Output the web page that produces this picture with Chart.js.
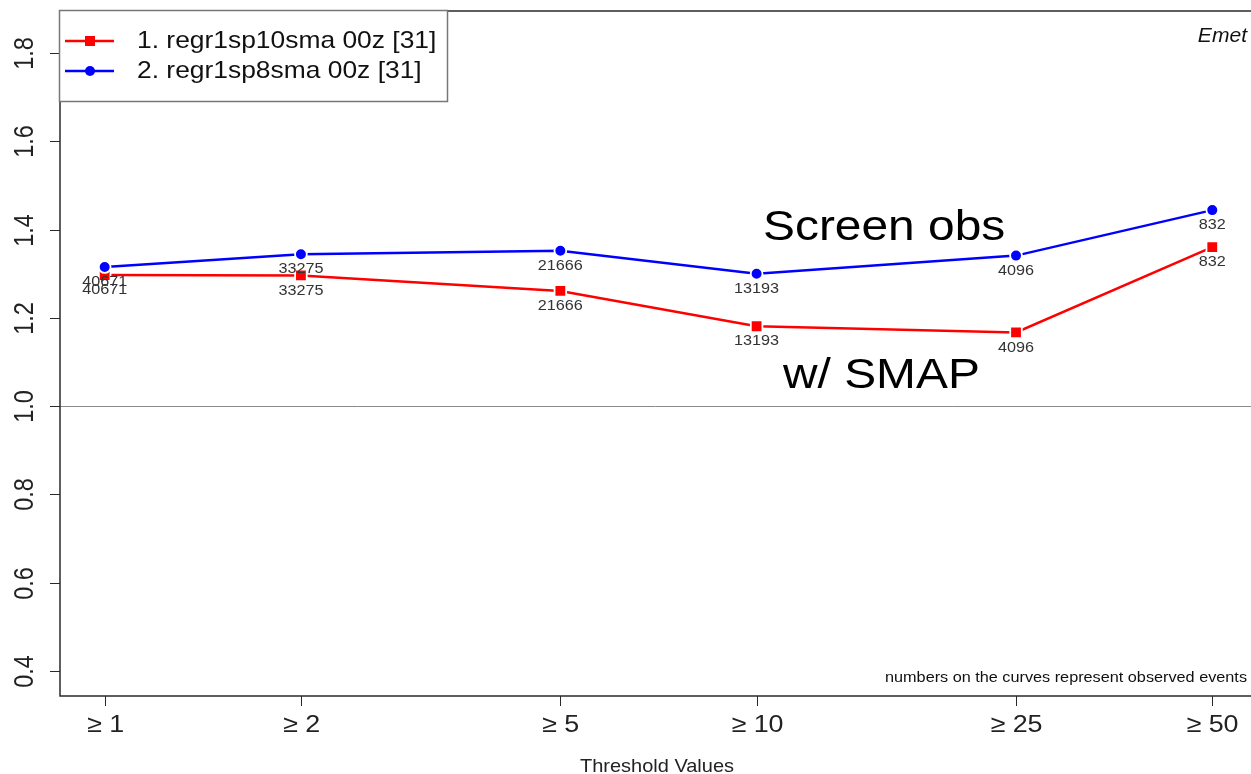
<!DOCTYPE html>
<html>
<head>
<meta charset="utf-8">
<script src="https://cdn.jsdelivr.net/npm/chart.js@4.4.1/dist/chart.umd.min.js"></script>
<style>
  html, body { margin: 0; padding: 0; background: #fff; }
  canvas { display: block; }
</style>
</head>
<body>
<canvas id="chart" width="1251" height="774"></canvas>
<script>
// ─── Data ─────────────────────────────────────────────────
const thresholds = [1, 2, 5, 10, 25, 50];
const tickLabels = ['≥ 1', '≥ 2', '≥ 5', '≥ 10', '≥ 25', '≥ 50'];
const yTicks = [0.4, 0.6, 0.8, 1.0, 1.2, 1.4, 1.6, 1.8];
const sp10Values = [1.297, 1.296, 1.261, 1.181, 1.167, 1.360];
const sp8Values = [1.315, 1.344, 1.352, 1.300, 1.341, 1.444];
const observedEvents = [40671, 33275, 21666, 13193, 4096, 832];
const seriesNames = ['1. regr1sp10sma 00z [31]', '2. regr1sp8sma 00z [31]'];

const FONT = "'Liberation Sans', Arial, sans-serif";
const STRETCH = 1.12; // the original image is a little wider than tall

// draw text with a slight horizontal stretch
function drawText(ctx, str, x, y, size, align, opts = {}) {
  ctx.save();
  ctx.translate(x, y);
  ctx.scale(opts.sx || STRETCH, 1);
  if (opts.rotate) ctx.rotate(opts.rotate);
  ctx.font = (opts.style || '') + ' ' + size + 'px ' + FONT;
  ctx.fillStyle = opts.color || '#1a1a1a';
  ctx.textAlign = align;
  ctx.textBaseline = opts.baseline || 'alphabetic';
  ctx.fillText(str, 0, 0);
  ctx.restore();
}

function toPoints(values) {
  return thresholds.map((t, i) => ({ x: t, y: values[i] }));
}

// ─── Axes, frame and reference line ───────────────────────
const framePlugin = {
  id: 'frame',
  beforeDatasetsDraw(chart) {
    const { ctx, chartArea: a, scales: { y } } = chart;
    ctx.save();
    // 1.0 reference line
    ctx.strokeStyle = '#8a8a8a';
    ctx.lineWidth = 1;
    const y1 = Math.round(y.getPixelForValue(1.0)) + 0.5;
    ctx.beginPath(); ctx.moveTo(a.left, y1); ctx.lineTo(a.right, y1); ctx.stroke();
    ctx.restore();
  },
  afterDatasetsDraw(chart) {
    const { ctx, chartArea: a, scales: { x, y } } = chart;
    ctx.save();
    ctx.strokeStyle = '#2a2a2a';
    ctx.lineWidth = 1.5;
    ctx.beginPath();
    ctx.moveTo(a.right, a.top); ctx.lineTo(a.left, a.top);
    ctx.lineTo(a.left, a.bottom); ctx.lineTo(a.right, a.bottom);
    ctx.stroke();

    // y ticks
    ctx.lineWidth = 1;
    yTicks.forEach(v => {
      const py = Math.round(y.getPixelForValue(v)) + 0.5;
      ctx.beginPath(); ctx.moveTo(a.left - 10, py); ctx.lineTo(a.left, py); ctx.stroke();
      drawText(ctx, v.toFixed(1), 26, py, 23.5, 'center',
        { rotate: -Math.PI / 2, baseline: 'middle', sx: 1.15, color: '#222' });
    });

    // x ticks
    thresholds.forEach((t, i) => {
      const px = Math.round(x.getPixelForValue(t)) + 0.5;
      ctx.beginPath(); ctx.moveTo(px, a.bottom); ctx.lineTo(px, a.bottom + 10); ctx.stroke();
      drawText(ctx, tickLabels[i], px, 732, 24, 'center', { color: '#222' });
    });

    drawText(ctx, 'Threshold Values', 657, 772, 18.5, 'center', { sx: 1.08, color: '#222' });
    drawText(ctx, 'Emet', 1247, 42, 19.5, 'right', { style: 'italic', sx: 1.08, color: '#111' });
    drawText(ctx, 'numbers on the curves represent observed events', 1247, 682, 14.5, 'right', { color: '#111' });

    // big annotations
    drawText(ctx, 'Screen obs', 763, 240, 42, 'left', { sx: 1.14, color: '#000' });
    drawText(ctx, 'w/ SMAP', 783, 388, 42, 'left', { sx: 1.14, color: '#000' });

    // observed events under each point
    chart.data.datasets.forEach((ds, di) => {
      chart.getDatasetMeta(di).data.forEach((pt, i) => {
        drawText(ctx, String(observedEvents[i]), pt.x, pt.y + 15, 15, 'center',
          { baseline: 'middle', sx: 1.08, color: '#333' });
      });
    });
    ctx.restore();
  },
  afterDraw(chart) {
    const { ctx } = chart;
    ctx.save();
    // legend box
    ctx.fillStyle = '#fff';
    ctx.fillRect(59.5, 10.5, 388, 91);
    ctx.strokeStyle = '#777';
    ctx.lineWidth = 1.5;
    ctx.strokeRect(59.5, 10.5, 388, 91);
    const rows = [41, 71];
    chart.data.datasets.forEach((ds, i) => {
      const ly = rows[i];
      ctx.strokeStyle = ds.borderColor;
      ctx.lineWidth = 2.5;
      ctx.beginPath(); ctx.moveTo(65, ly); ctx.lineTo(114, ly); ctx.stroke();
      ctx.fillStyle = ds.borderColor;
      if (ds.pointStyle === 'rect') {
        ctx.fillRect(85, ly - 5, 10, 10);
      } else {
        ctx.beginPath(); ctx.arc(90, ly, 5, 0, Math.PI * 2); ctx.fill();
      }
      drawText(ctx, seriesNames[i], 137, ly, 24, 'left', { baseline: 'middle', sx: 1.1, color: '#111' });
    });
    ctx.restore();
  }
};

new Chart(document.getElementById('chart'), {
  type: 'line',
  data: {
    datasets: [
      {
        label: seriesNames[0],
        data: toPoints(sp10Values),
        borderColor: '#ff0000',
        backgroundColor: '#ff0000',
        borderWidth: 2.5,
        pointStyle: 'rect',
        pointRadius: 8.2,
        pointBorderColor: '#fff',
        pointBorderWidth: 1.8,
        pointBackgroundColor: '#ff0000',
        tension: 0,
        order: 1
      },
      {
        label: seriesNames[1],
        data: toPoints(sp8Values),
        borderColor: '#0000ff',
        backgroundColor: '#0000ff',
        borderWidth: 2.5,
        pointStyle: 'circle',
        pointRadius: 5.9,
        pointBorderColor: '#fff',
        pointBorderWidth: 1.8,
        pointBackgroundColor: '#0000ff',
        tension: 0,
        order: 0
      }
    ]
  },
  options: {
    responsive: false,
    animation: false,
    events: [],
    layout: { autoPadding: false, padding: { left: 60, top: 11, right: 0, bottom: 78 } },
    plugins: { legend: { display: false }, tooltip: { enabled: false } },
    scales: {
      x: { type: 'logarithmic', min: 0.854, max: 57.33, display: false },
      y: { type: 'linear', min: 0.3435, max: 1.895, display: false }
    }
  },
  plugins: [framePlugin]
});
</script>
</body>
</html>
